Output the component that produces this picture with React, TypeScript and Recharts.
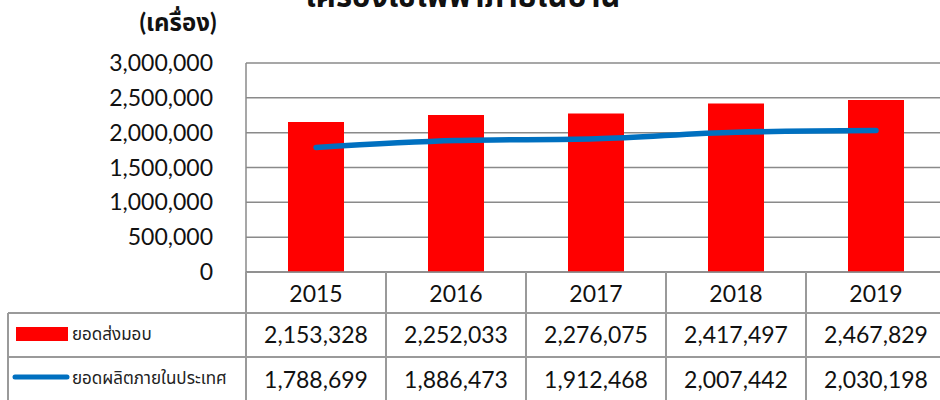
import React from "react";
import { ComposedChart, Bar, Line, XAxis, YAxis, CartesianGrid } from "recharts";

const years = ["2015", "2016", "2017", "2018", "2019"];
const deliveries = [2153328, 2252033, 2276075, 2417497, 2467829];
const production = [1788699, 1886473, 1912468, 2007442, 2030198];
const yTicks = [0, 500000, 1000000, 1500000, 2000000, 2500000, 3000000];
const seriesNames = ["ยอดส่งมอบ", "ยอดผลิตภายในประเทศ"];
const title = "เครื่องใช้ไฟฟ้าภายในบ้าน";
const unitLabel = "(เครื่อง)";

const data = years.map((y, i) => ({ year: y, deliveries: deliveries[i], production: production[i] }));

const FONT = "Lato, 'Noto Sans Thai', 'Noto Sans', sans-serif";
const GRID = "#8a8a8a";
const TABLE = "#9a9a9a";
const PLOT_LEFT = 246;
const PLOT_TOP = 63;
const PLOT_BOTTOM = 272;
const ROW1 = 313;
const ROW2 = 357;
const BOTTOM = 400;
const BAND = 140;

const fmt = (v: number) => v.toLocaleString("en-US");

const YTick = (props: any) => {
  const { y, payload } = props;
  return (
    <text x={PLOT_LEFT - 33} y={y} dy={8} textAnchor="end" fontSize={23} fill="#111" fontFamily={FONT}>
      {fmt(payload.value)}
    </text>
  );
};

const XTick = (props: any) => {
  const { x, payload, index } = props;
  const i = index ?? years.indexOf(payload.value);
  const l = x - BAND / 2;
  const r = x + BAND / 2;
  return (
    <g>
      <line x1={l} y1={PLOT_BOTTOM} x2={l} y2={BOTTOM} stroke={TABLE} strokeWidth={2} />
      <line x1={r} y1={PLOT_BOTTOM} x2={r} y2={BOTTOM} stroke={TABLE} strokeWidth={2} />
      <line x1={l} y1={ROW1} x2={r} y2={ROW1} stroke={TABLE} strokeWidth={2} />
      <line x1={l} y1={ROW2} x2={r} y2={ROW2} stroke={TABLE} strokeWidth={2} />
      <text x={x} y={PLOT_BOTTOM + 30} textAnchor="middle" fontSize={23} fill="#111" fontFamily={FONT}>
        {payload.value}
      </text>
      <text x={x} y={ROW1 + 30} textAnchor="middle" fontSize={23} fill="#111" fontFamily={FONT}>
        {fmt(deliveries[i])}
      </text>
      <text x={x} y={ROW2 + 31} textAnchor="middle" fontSize={23} fill="#111" fontFamily={FONT}>
        {fmt(production[i])}
      </text>
    </g>
  );
};

export default function App() {
  return (
    <div style={{ position: "absolute", left: 0, top: 0, width: 940, height: 400, overflow: "hidden", background: "#fff" }}>
      <ComposedChart
        width={946}
        height={400}
        data={data}
        margin={{ top: PLOT_TOP, right: 0, left: 0, bottom: 0 }}
        barCategoryGap={0}
      >
        <CartesianGrid vertical={false} stroke={GRID} strokeWidth={1.5} />
        <XAxis
          dataKey="year"
          height={BOTTOM - PLOT_BOTTOM}
          axisLine={{ stroke: GRID, strokeWidth: 1.5 }}
          tickLine={false}
          tick={<XTick />}
          interval={0}
        />
        <YAxis
          width={PLOT_LEFT}
          domain={[0, 3000000]}
          ticks={yTicks}
          axisLine={{ stroke: GRID, strokeWidth: 1.5 }}
          tickLine={false}
          tick={<YTick />}
          interval={0}
        />
        <Bar dataKey="deliveries" fill="#ff0000" barSize={56} isAnimationActive={false} />
        <Line
          dataKey="production"
          type="monotone"
          stroke="#0070c0"
          strokeWidth={5.5}
          strokeLinecap="round"
          dot={false}
          activeDot={false}
          isAnimationActive={false}
        />
      </ComposedChart>
      <svg width={940} height={400} style={{ position: "absolute", left: 0, top: 0, pointerEvents: "none" }}>
        <text x={463} y={7} textAnchor="middle" fontSize={31} fontWeight="bold" fill="#111" fontFamily={FONT}>
          {title}
        </text>
        <text x={178} y={31} textAnchor="middle" fontSize={24} fontWeight="bold" fill="#111" fontFamily={FONT}>
          {unitLabel}
        </text>
        <line x1={8} y1={ROW1} x2={PLOT_LEFT} y2={ROW1} stroke={TABLE} strokeWidth={2} />
        <line x1={8} y1={ROW2} x2={PLOT_LEFT} y2={ROW2} stroke={TABLE} strokeWidth={2} />
        <line x1={8} y1={ROW1} x2={8} y2={BOTTOM} stroke={TABLE} strokeWidth={2} />
        <rect x={16} y={327} width={52} height={14} fill="#ff0000" />
        <text x={72} y={340} fontSize={17} fill="#222" fontFamily={FONT}>
          {seriesNames[0]}
        </text>
        <line x1={15} y1={377} x2={67} y2={377} stroke="#0070c0" strokeWidth={5} strokeLinecap="round" />
        <text x={72} y={384} fontSize={17} fill="#222" fontFamily={FONT}>
          {seriesNames[1]}
        </text>
      </svg>
    </div>
  );
}
